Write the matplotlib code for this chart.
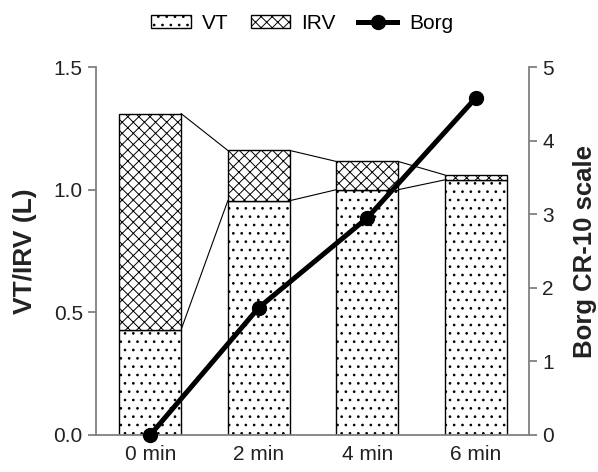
import numpy as np
import matplotlib
matplotlib.use('Agg')
import matplotlib.pyplot as plt

plt.rcParams['font.family'] = ['Liberation Sans', 'DejaVu Sans']
plt.rcParams['hatch.linewidth'] = 0.7
plt.rcParams['hatch.color'] = '#333333'

# data
times = ['0 min', '2 min', '4 min', '6 min']
vt = [0.43, 0.955, 1.0, 1.04]
irv = [0.88, 0.205, 0.115, 0.02]
borg = [0.0, 1.73, 2.95, 4.58]

spine_col = '#808080'
text_col = '#222222'

fig = plt.figure(figsize=(5.98, 4.72), dpi=100)
ax = fig.add_axes([0.1605, 0.0784, 0.724, 0.7796])
x = np.arange(len(times))
w = 0.57

b1 = ax.bar(x, vt, w, color='white', edgecolor='black', linewidth=1.0,
            hatch='..', label='VT', zorder=2)
b2 = ax.bar(x, irv, w, bottom=vt, color='white', edgecolor='black',
            linewidth=1.0, hatch='xxx', label='IRV', zorder=2)

# connector lines between bar tops
tot = np.array(vt) + np.array(irv)
for i in range(len(x) - 1):
    ax.plot([x[i] + w / 2, x[i + 1] - w / 2], [vt[i], vt[i + 1]],
            color='black', lw=0.8, zorder=1)
    ax.plot([x[i] + w / 2, x[i + 1] - w / 2], [tot[i], tot[i + 1]],
            color='black', lw=0.8, zorder=1)

ax.set_xlim(-0.5, 3.49)
ax.set_ylim(0, 1.5)
ax.set_yticks([0, 0.5, 1.0, 1.5])
ax.set_yticklabels(['0.0', '0.5', '1.0', '1.5'])
ax.set_xticks(x)
ax.set_xticklabels(times)
ax.set_ylabel('VT/IRV (L)', fontsize=19, fontweight='bold', color=text_col,
              labelpad=12)

ax2 = ax.twinx()
ln, = ax2.plot(x, borg, color='black', lw=3.6, marker='o', markersize=10,
               label='Borg', zorder=5, clip_on=False)
ax2.set_ylim(0, 5)
ax2.set_yticks(range(6))
ax2.set_ylabel('Borg CR-10 scale', fontsize=18.5, fontweight='bold',
               color=text_col, labelpad=14)

for a in (ax, ax2):
    a.spines['top'].set_visible(False)
    for s in ('left', 'right', 'bottom'):
        a.spines[s].set_color(spine_col)
        a.spines[s].set_linewidth(1.3)
    a.tick_params(axis='y', colors=spine_col, labelcolor=text_col,
                  labelsize=15, length=6, width=1.3)
    a.tick_params(axis='x', length=0, labelsize=15, labelcolor=text_col, pad=7)
ax.spines['right'].set_visible(False)
ax2.spines['left'].set_visible(False)
ax2.spines['bottom'].set_visible(False)

ax.set_zorder(ax2.get_zorder() - 1)
ax.patch.set_visible(False)

fig.legend([b1, b2, ln], ['VT', 'IRV', 'Borg'], loc='upper center',
           bbox_to_anchor=(0.505, 1.01), ncol=3, frameon=False, fontsize=15,
           handlelength=1.9, handleheight=0.6, columnspacing=1.05,
           handletextpad=0.55)

fig.savefig('out.png', dpi=100)
